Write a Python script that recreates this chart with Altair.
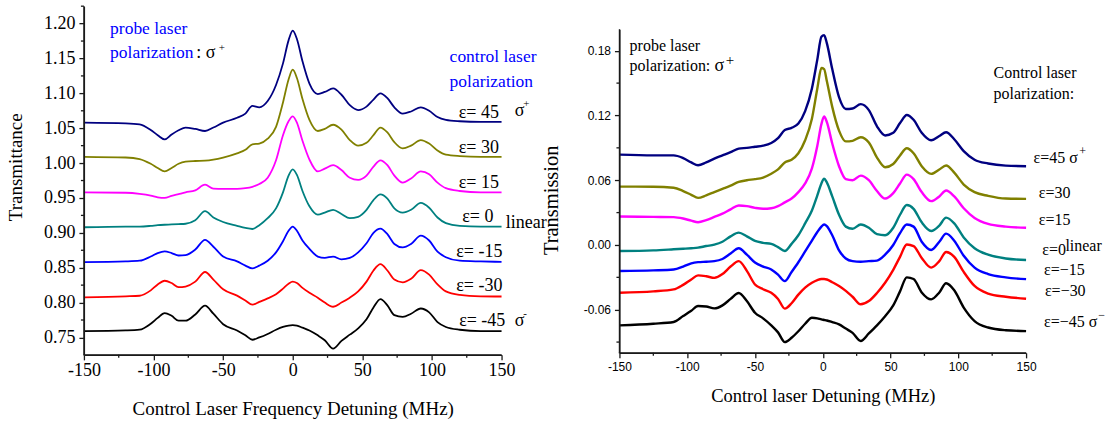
import altair as alt
import pandas as pd

# ---------------- Left panel data ----------------
x_left = [-150, -120, -110, -102, -97, -92, -87, -82, -77, -70, -63, -57, -50, -40, -34,
          -29, -24, -18, -12, -7, -3, 0, 3, 7, 12, 18, 23, 29, 35, 41,
          47, 53, 58, 63, 68, 73, 79, 85, 92, 98, 104, 110, 120, 135, 150]

left_eps45 = [1.058, 1.057, 1.0556, 1.0476, 1.040, 1.034, 1.041, 1.047, 1.051, 1.049, 1.046, 1.051, 1.058, 1.065, 1.071,
              1.082, 1.080, 1.089, 1.112, 1.143, 1.176, 1.190, 1.178, 1.146, 1.114, 1.099, 1.102, 1.107, 1.098, 1.083,
              1.076, 1.081, 1.091, 1.100, 1.093, 1.080, 1.071, 1.074, 1.080, 1.075, 1.066, 1.062, 1.060, 1.059, 1.059]
left_eps30 = [1.009, 1.008, 1.0058, 0.999, 0.993, 0.988, 0.993, 0.999, 1.002, 1.003, 1.0035, 1.005, 1.008, 1.014, 1.019,
              1.027, 1.028, 1.035, 1.052, 1.087, 1.120, 1.134, 1.122, 1.092, 1.062, 1.046, 1.049, 1.055, 1.048, 1.033,
              1.025, 1.029, 1.040, 1.051, 1.044, 1.030, 1.021, 1.025, 1.033, 1.028, 1.018, 1.012, 1.010, 1.009, 1.009]
left_eps15 = [0.958, 0.9575, 0.956, 0.9535, 0.951, 0.950, 0.953, 0.9555, 0.958, 0.961, 0.969, 0.9635, 0.963, 0.963, 0.964,
              0.966, 0.970, 0.979, 1.004, 1.040, 1.060, 1.067, 1.058, 1.032, 1.005, 0.988, 0.992, 0.997, 0.990, 0.979,
              0.976, 0.982, 0.995, 1.004, 0.997, 0.982, 0.972, 0.978, 0.988, 0.984, 0.972, 0.964, 0.960, 0.958, 0.958]
left_eps0 = [0.908, 0.909, 0.909, 0.910, 0.911, 0.9116, 0.912, 0.9125, 0.913, 0.918, 0.931, 0.922, 0.9155, 0.910, 0.907,
             0.9055, 0.911, 0.921, 0.935, 0.958, 0.982, 0.991, 0.983, 0.960, 0.938, 0.926, 0.929, 0.933, 0.927, 0.921,
             0.923, 0.933, 0.947, 0.955, 0.949, 0.935, 0.929, 0.933, 0.943, 0.936, 0.922, 0.914, 0.910, 0.909, 0.909]
left_epsm15 = [0.858, 0.859, 0.860, 0.866, 0.871, 0.8735, 0.871, 0.8675, 0.868, 0.876, 0.890, 0.880, 0.866, 0.859, 0.853,
               0.849, 0.853, 0.860, 0.872, 0.888, 0.903, 0.909, 0.903, 0.889, 0.877, 0.866, 0.864, 0.866, 0.862, 0.864,
               0.872, 0.885, 0.900, 0.906, 0.898, 0.884, 0.879, 0.884, 0.896, 0.889, 0.873, 0.865, 0.860, 0.859, 0.8584]
left_epsm30 = [0.8074, 0.809, 0.8098, 0.8175, 0.826, 0.8313, 0.828, 0.822, 0.823, 0.830, 0.8438, 0.833, 0.819, 0.810, 0.803,
               0.797, 0.801, 0.806, 0.812, 0.820, 0.827, 0.830, 0.828, 0.821, 0.814, 0.807, 0.800, 0.794, 0.800, 0.807,
               0.816, 0.830, 0.846, 0.855, 0.846, 0.833, 0.829, 0.834, 0.8464, 0.840, 0.826, 0.816, 0.811, 0.809, 0.8087]
left_epsm45 = [0.759, 0.760, 0.7611, 0.7697, 0.778, 0.785, 0.781, 0.774, 0.774, 0.783, 0.7955, 0.784, 0.769, 0.760, 0.753,
               0.7467, 0.750, 0.755, 0.761, 0.765, 0.767, 0.7676, 0.767, 0.764, 0.760, 0.753, 0.746, 0.734, 0.745, 0.754,
               0.763, 0.776, 0.793, 0.805, 0.796, 0.782, 0.7795, 0.784, 0.7915, 0.786, 0.772, 0.765, 0.761, 0.759, 0.759]

left_names = ["L45", "L30", "L15", "L0", "L-15", "L-30", "L-45"]
left_colors = ["#000080", "#808000", "#ff00ff", "#008080", "#0000ff", "#ff0000", "#000000"]
left_series = [left_eps45, left_eps30, left_eps15, left_eps0, left_epsm15, left_epsm30, left_epsm45]

# ---------------- Right panel data ----------------
x_right = [-150, -125, -110, -103, -97, -92, -86, -80, -74, -68, -62, -56, -50, -44, -38,
           -33, -28, -23, -18, -13, -8, -4, -1, 1, 3, 7, 12, 17, 22, 28,
           34, 40, 46, 52, 57, 62, 67, 73, 80, 86, 91, 97, 104, 112, 122, 135, 150]

right_eps45 = [0.0837, 0.083, 0.083, 0.0805, 0.0765, 0.0739, 0.0765, 0.080, 0.083, 0.086, 0.0893, 0.090, 0.091, 0.092, 0.0945,
               0.099, 0.1065, 0.1085, 0.1125, 0.124, 0.145, 0.172, 0.193, 0.1945, 0.187, 0.163, 0.137, 0.126, 0.1265, 0.1305,
               0.125, 0.110, 0.1015, 0.104, 0.113, 0.1205, 0.116, 0.104, 0.097, 0.101, 0.1044, 0.098, 0.087, 0.079, 0.0755, 0.0735, 0.073]
right_eps30 = [0.0541, 0.054, 0.053, 0.050, 0.0465, 0.0436, 0.046, 0.049, 0.052, 0.055, 0.0584, 0.060, 0.061, 0.0625, 0.066,
               0.070, 0.0765, 0.079, 0.085, 0.097, 0.117, 0.145, 0.164, 0.163, 0.152, 0.128, 0.106, 0.096, 0.0965, 0.0998,
               0.095, 0.081, 0.072, 0.075, 0.083, 0.0896, 0.085, 0.073, 0.0659, 0.070, 0.0736, 0.067, 0.056, 0.049, 0.0455, 0.043, 0.0427]
right_eps15 = [0.0264, 0.026, 0.0258, 0.0245, 0.0225, 0.0211, 0.023, 0.026, 0.029, 0.033, 0.0366, 0.036, 0.0344, 0.0335, 0.034,
               0.036, 0.0395, 0.043, 0.049, 0.057, 0.071, 0.092, 0.112, 0.119, 0.114, 0.094, 0.073, 0.061, 0.060, 0.0643,
               0.060, 0.050, 0.043, 0.048, 0.057, 0.0652, 0.061, 0.049, 0.0406, 0.045, 0.0505, 0.045, 0.034, 0.025, 0.0195, 0.017, 0.0159]
right_eps0 = [-0.0056, -0.005, -0.004, -0.0035, -0.003, -0.0025, -0.001, 0.0003, 0.003, 0.008, 0.0114, 0.008, 0.0037, 0.002, 0.001,
              -0.002, -0.0056, 0.001, 0.009, 0.020, 0.032, 0.046, 0.057, 0.0615, 0.058, 0.045, 0.028, 0.017, 0.015, 0.019,
              0.016, 0.010, 0.009, 0.016, 0.028, 0.037, 0.0335, 0.021, 0.013, 0.018, 0.0253, 0.020, 0.007, -0.003, -0.009, -0.0125, -0.0139]
right_epsm15 = [-0.0241, -0.0235, -0.0227, -0.020, -0.017, -0.0159, -0.0155, -0.015, -0.013, -0.008, -0.0031, -0.009, -0.0163, -0.020, -0.0227,
                -0.0275, -0.0335, -0.025, -0.016, -0.006, 0.004, 0.012, 0.017, 0.019, 0.0175, 0.009, -0.005, -0.0125, -0.015, -0.0155,
                -0.015, -0.0145, -0.009, 0.000, 0.011, 0.019, 0.017, 0.003, -0.0046, 0.003, 0.0105, 0.004, -0.010, -0.021, -0.027, -0.030, -0.0317]
right_epsm30 = [-0.0443, -0.043, -0.0412, -0.037, -0.032, -0.0282, -0.029, -0.0305, -0.027, -0.020, -0.015, -0.024, -0.0366, -0.041, -0.0443,
                -0.050, -0.059, -0.054, -0.046, -0.0395, -0.035, -0.0325, -0.0315, -0.0315, -0.032, -0.0345, -0.038, -0.0425, -0.048, -0.055,
                -0.052, -0.0445, -0.035, -0.023, -0.011, 0.0005, -0.001, -0.012, -0.021, -0.015, -0.0065, -0.011, -0.025, -0.038, -0.045, -0.048, -0.0498]
right_epsm45 = [-0.0745, -0.073, -0.0714, -0.0659, -0.061, -0.0565, -0.057, -0.0588, -0.056, -0.050, -0.0445, -0.052, -0.0628, -0.068, -0.0745,
                -0.081, -0.090, -0.086, -0.080, -0.073, -0.0675, -0.068, -0.069, -0.0695, -0.070, -0.0715, -0.0736, -0.0775, -0.0815, -0.089,
                -0.082, -0.0745, -0.066, -0.056, -0.043, -0.030, -0.0315, -0.044, -0.0504, -0.044, -0.0355, -0.042, -0.058, -0.0705, -0.0765, -0.079, -0.0798]

right_names = ["R45", "R30", "R15", "R0", "R-15", "R-30", "R-45"]
right_colors = ["#ff0000", "#000000", "#0000ff", "#008080", "#ff00ff", "#808000", "#000080"]
right_series = [right_eps45, right_eps30, right_eps15, right_eps0, right_epsm15, right_epsm30, right_epsm45]

# ---------------- Axis ticks ----------------
x_major_ticks = [-150, -100, -50, 0, 50, 100, 150]
x_minor_ticks = [-125, -75, -25, 25, 75, 125]
left_y_major = [0.75, 0.80, 0.85, 0.90, 0.95, 1.00, 1.05, 1.10, 1.15, 1.20]
left_y_minor = [0.775, 0.825, 0.875, 0.925, 0.975, 1.025, 1.075, 1.125, 1.175, 1.225]
right_y_major = [-0.06, 0.0, 0.06, 0.12, 0.18]
right_y_minor = [-0.09, -0.03, 0.03, 0.09, 0.15]

# ---------------- Annotations ----------------
left_note_text = ["probe laser", "polarization", ": σ", "+", "control laser", "polarization", "σ", "+", "linear", "σ", "-"]
left_note_x = [-131.2, -131.2, -69.3, -53.2, 112.7, 112.7, 159.5, 165.6, 153.1, 159.5, 165.6]
left_note_y = [1.1918, 1.1584, 1.1584, 1.1656, 1.1523, 1.1169, 1.0749, 1.0843, 0.9148, 0.7740, 0.7834]
left_note_color = ["#0000ff", "#0000ff", "#000000", "#000000", "#0000ff", "#0000ff",
                   "#000000", "#000000", "#000000", "#000000", "#000000"]
left_note_size = [17.5, 17.5, 18, 11, 17.5, 17.5, 18, 11, 18, 18, 11]

left_eps_text = ["ε= 45", "ε= 30", "ε= 15", "ε= 0", "ε= -15", "ε= -30", "ε= -45"]
left_eps_x = [148.1, 148.1, 148.1, 144.2, 150.6, 150.6, 152.7]
left_eps_y = [1.0725, 1.0223, 0.9721, 0.922, 0.8718, 0.8231, 0.7729]

right_note_text = ["probe laser", "polarization:", "σ", "+", "Control laser", "polarization:", "ε=45 σ", "+",
                   "ε=30", "ε=15", "ε=0", "linear", "ε=−15", "ε=−30", "ε=−45 σ", "−"]
right_note_x = [-142.5, -142.5, -79.8, -71.6, 126.0, 126.0, 155.5, 189.3,
                159.4, 159.4, 162.0, 179.0, 163.3, 163.9, 163.3, 203.3]
right_note_y = [0.1846, 0.1655, 0.1655, 0.1717, 0.159, 0.1396, 0.0804, 0.0875,
                0.048, 0.023, -0.0044, -0.001, -0.0232, -0.0427, -0.0713, -0.0649]
right_note_size = [16, 16, 18, 15, 16, 16, 16, 12, 16, 16, 16, 16, 16, 16, 16, 12]

SERIF = "Liberation Serif"
SANS = "Liberation Sans"

LW, LH = 418, 349
RW, RH = 407, 324
TICK = 5
MINOR = 3
AXW = 1.3
INK = "#1a1a1a"


def long_df(xs, names, series):
    rows = []
    for n, ys in zip(names, series):
        for xv, yv in zip(xs, ys):
            rows.append({"x": xv, "y": yv, "s": n})
    return pd.DataFrame(rows)


df_left = long_df(x_left, left_names, left_series)
df_right = long_df(x_right, right_names, right_series)

xscale = alt.Scale(domain=[-150, 150], nice=False, zero=False)
lyscale = alt.Scale(domain=[0.725, 1.225], nice=False, zero=False)
ryscale = alt.Scale(domain=[-0.10, 0.20], nice=False, zero=False)

common_axis = dict(grid=False, domain=True, domainColor=INK, domainWidth=AXW, domainOpacity=1,
                   ticks=True, tickColor=INK, tickWidth=AXW, tickSize=TICK, tickOpacity=1,
                   labelColor="black", titleColor="black", zindex=1,
                   labelFlush=False, labelOverlap=False, titleFontWeight="normal")

x_label = "(datum.value < 0 ? '-' : '') + format(abs(datum.value), 'd')"

left_x_axis = alt.Axis(values=x_major_ticks, labelExpr=x_label,
                       labelFont=SERIF, labelFontSize=18, labelPadding=2,
                       title="Control Laser Frequency Detuning (MHz)", titleFont=SERIF, titleFontSize=19,
                       titleBaseline="alphabetic", titleY=60, **common_axis)
left_y_axis = alt.Axis(values=left_y_major, labelExpr="format(datum.value, '.2f')",
                       labelFont=SERIF, labelFontSize=18, labelPadding=4,
                       title="Transmittance", titleFont=SERIF, titleFontSize=19,
                       titleAngle=270, titleBaseline="alphabetic", titleAlign="center",
                       titleX=-62.5, titleY=160.7, **common_axis)

right_x_axis = alt.Axis(values=x_major_ticks, labelExpr=x_label,
                        labelFont=SANS, labelFontSize=12, labelPadding=4,
                        title="Control laser Detuning (MHz)", titleFont=SERIF, titleFontSize=18.5,
                        titleBaseline="alphabetic", titleY=49, **common_axis)
right_y_axis = alt.Axis(values=right_y_major,
                        labelExpr="(datum.value < -0.0001 ? '-' : '') + format(abs(datum.value), '.2f')",
                        labelFont=SANS, labelFontSize=12, labelPadding=4,
                        title="Transmission", titleFont=SERIF, titleFontSize=20.5,
                        titleAngle=270, titleBaseline="alphabetic", titleAlign="center",
                        titleX=-61.7, titleY=170.8, **common_axis)

left_x = alt.X("x:Q", scale=xscale, axis=left_x_axis)
left_y = alt.Y("y:Q", scale=lyscale, axis=left_y_axis)
right_x = alt.X("x:Q", scale=xscale, axis=right_x_axis)
right_y = alt.Y("y:Q", scale=ryscale, axis=right_y_axis)


def frame_layers(xenc, yenc, ymin, h):
    # axis frame as a mark (left and bottom sides of the plot area), plus minor ticks
    left_side = alt.Chart(pd.DataFrame({"v": [0]})).mark_rect(color=INK, opacity=1).encode(
        x=alt.value(-AXW / 2), x2=alt.value(AXW / 2), y=alt.value(0), y2=alt.value(h))
    bottom_side = alt.Chart(pd.DataFrame({"v": [0]})).mark_rect(color=INK, opacity=1).encode(
        x=alt.value(-AXW / 2), x2=alt.value(RW if h == RH else LW), y=alt.value(h - AXW / 2),
        y2=alt.value(h + AXW / 2))
    ymin_t = alt.Chart(pd.DataFrame({"y": ymin})).mark_tick(
        orient="horizontal", size=MINOR, thickness=AXW, color=INK, opacity=1).encode(
        y=yenc, x=alt.value(-MINOR / 2))
    xmin_t = alt.Chart(pd.DataFrame({"x": x_minor_ticks})).mark_tick(
        orient="vertical", size=MINOR, thickness=AXW, color=INK, opacity=1).encode(
        x=xenc, y=alt.value(h + MINOR / 2))
    return [left_side, bottom_side, ymin_t, xmin_t]


# ---------------- Left panel ----------------
left_lines = alt.Chart(df_left).mark_line(interpolate="monotone", strokeWidth=1.8).encode(
    x=left_x, y=left_y,
    color=alt.Color("s:N", scale=alt.Scale(domain=left_names, range=left_colors), legend=None),
)
df_left_notes = pd.DataFrame({"x": left_note_x, "y": left_note_y, "t": left_note_text,
                              "c": left_note_color, "fs": left_note_size})
left_notes = alt.Chart(df_left_notes).mark_text(align="left", baseline="middle", font=SERIF).encode(
    x=left_x, y=left_y, text="t:N",
    color=alt.Color("c:N", scale=None),
    size=alt.Size("fs:Q", scale=None),
)
df_left_eps = pd.DataFrame({"x": left_eps_x, "y": left_eps_y, "t": left_eps_text})
left_eps = alt.Chart(df_left_eps).mark_text(align="right", baseline="middle", font=SERIF,
                                            fontSize=18, color="black").encode(
    x=left_x, y=left_y, text="t:N",
)
left = alt.layer(left_lines, left_notes, left_eps,
                 *frame_layers(left_x, left_y, left_y_minor, LH)).properties(width=LW, height=LH)

# ---------------- Right panel ----------------
right_lines = alt.Chart(df_right).mark_line(interpolate="monotone", strokeWidth=2.4).encode(
    x=right_x, y=right_y,
    color=alt.Color("s:N", scale=alt.Scale(domain=right_names, range=right_colors), legend=None),
)
df_right_notes = pd.DataFrame({"x": right_note_x, "y": right_note_y, "t": right_note_text,
                               "fs": right_note_size})
right_notes = alt.Chart(df_right_notes).mark_text(align="left", baseline="middle", font=SERIF,
                                                  color="black").encode(
    x=right_x, y=right_y, text="t:N",
    size=alt.Size("fs:Q", scale=None),
)
right = alt.layer(right_lines, right_notes,
                  *frame_layers(right_x, right_y, right_y_minor, RH)).properties(width=RW, height=RH)

spacer = alt.Chart(pd.DataFrame({"v": [0]})).mark_point(opacity=0).encode(
    x=alt.value(0), y=alt.value(0)
).properties(width=RW, height=23)

right_col = alt.vconcat(spacer, right, spacing=0, bounds="flush")

chart = alt.hconcat(left, right_col, spacing=118, bounds="flush").properties(
    padding={"left": 6, "top": 3, "right": 5, "bottom": 2}
).configure_view(strokeWidth=0)

chart.save("out.html", embed_options={"renderer": "svg", "actions": False})
